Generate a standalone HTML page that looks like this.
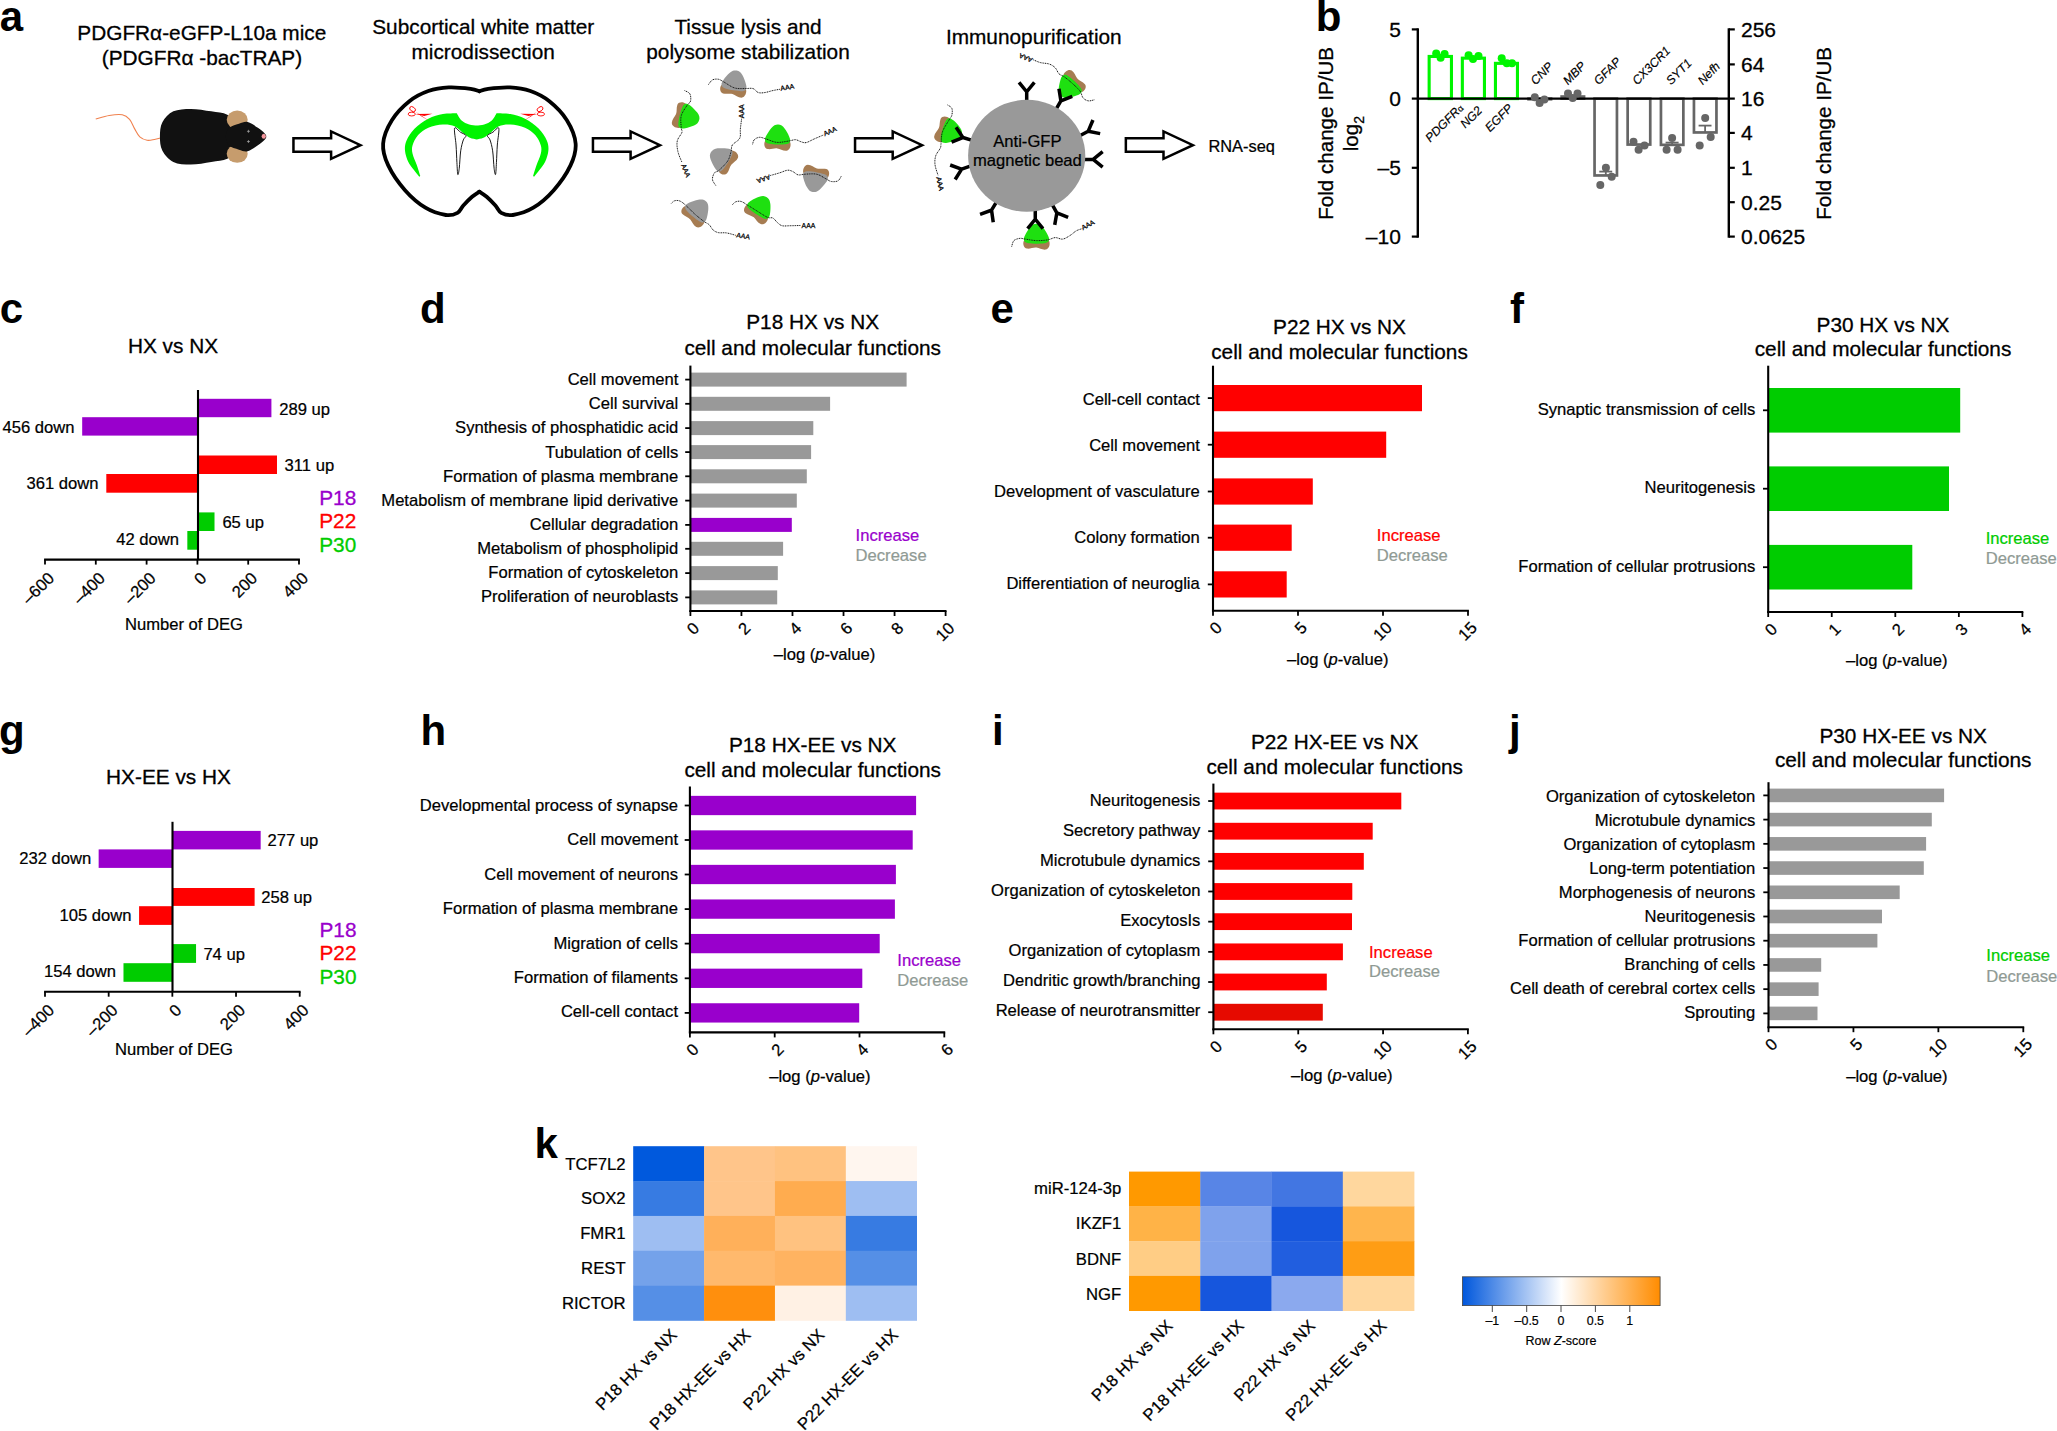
<!DOCTYPE html>
<html lang="en"><head><meta charset="utf-8"><title>Figure</title>
<style>html,body{margin:0;padding:0;background:#fff}svg{display:block}text{font-family:'Liberation Sans', Arial, Helvetica, sans-serif}</style>
</head><body>
<svg width="2057" height="1431" viewBox="0 0 2057 1431">
<rect width="2057" height="1431" fill="#fff"/>
<text x="-0.3" y="31" font-weight="bold" font-size="42">a</text>
<text x="1315.7" y="30.8" font-weight="bold" font-size="42">b</text>
<text x="-0.3" y="323.1" font-weight="bold" font-size="42">c</text>
<text x="420" y="323" font-weight="bold" font-size="42">d</text>
<text x="990.5" y="323" font-weight="bold" font-size="42">e</text>
<text x="1510" y="323" font-weight="bold" font-size="42">f</text>
<text x="-1" y="744.5" font-weight="bold" font-size="42">g</text>
<text x="420.5" y="744.5" font-weight="bold" font-size="42">h</text>
<text x="992" y="744.5" font-weight="bold" font-size="42">i</text>
<text x="1509" y="744.5" font-weight="bold" font-size="42">j</text>
<text x="534.6" y="1158.3" font-weight="bold" font-size="42">k</text>
<g id="panel-a">
<text x="201.8" y="40.2" text-anchor="middle" stroke="#000" stroke-width="0.29" font-size="20.8">PDGFRα-eGFP-L10a mice</text>
<text x="201.9" y="64.8" text-anchor="middle" stroke="#000" stroke-width="0.29" font-size="20.8">(PDGFRα -bacTRAP)</text>
<text x="483.2" y="34.2" text-anchor="middle" stroke="#000" stroke-width="0.29" font-size="20.8">Subcortical white matter</text>
<text x="483.2" y="59.2" text-anchor="middle" stroke="#000" stroke-width="0.29" font-size="20.8">microdissection</text>
<text x="748" y="34.2" text-anchor="middle" stroke="#000" stroke-width="0.29" font-size="20.8">Tissue lysis and</text>
<text x="748" y="59.2" text-anchor="middle" stroke="#000" stroke-width="0.29" font-size="20.8">polysome stabilization</text>
<text x="1033.8" y="43.8" text-anchor="middle" stroke="#000" stroke-width="0.29" font-size="20.8">Immunopurification</text>
<text x="1208.4" y="151.6" stroke="#000" stroke-width="0.23" font-size="16.4">RNA-seq</text>
<path d="M293.45 138.35H331.1V131.4L360.5 145.15L331.1 158.9V151.65H293.45Z" fill="#fff" stroke="#000" stroke-width="2.5" stroke-linejoin="miter"/>
<path d="M592.95 138.35H630.6V131.4L660 145.15L630.6 158.9V151.65H592.95Z" fill="#fff" stroke="#000" stroke-width="2.5" stroke-linejoin="miter"/>
<path d="M855.05 138.35H892.7V131.4L922.1 145.15L892.7 158.9V151.65H855.05Z" fill="#fff" stroke="#000" stroke-width="2.5" stroke-linejoin="miter"/>
<path d="M1125.85 138.35H1163.5V131.4L1192.9 145.15L1163.5 158.9V151.65H1125.85Z" fill="#fff" stroke="#000" stroke-width="2.5" stroke-linejoin="miter"/>
<path d="M95.75 119.08C97.99 118.48 104.74 116.17 109.17 115.44C113.59 114.71 118.89 114.05 122.29 114.71C125.7 115.37 127.52 117.02 129.58 119.38C131.65 121.73 132.99 125.94 134.69 128.86C136.39 131.77 137.73 134.98 139.79 136.88C141.86 138.77 144.65 139.79 147.08 140.23C149.52 140.67 152.14 139.87 154.38 139.5C156.61 139.14 159.48 138.29 160.5 138.04" fill="none" stroke="#f0824f" stroke-width="1.1"/>
<path d="M159.92 136.58C159.92 131.84 160.16 126.5 162.4 122.29C164.63 118.09 168.6 113.59 173.34 111.35C178.07 109.12 184.52 108.88 190.84 108.88C197.16 108.88 205.18 110.38 211.25 111.35C217.33 112.33 222.92 112.64 227.29 114.71C231.67 116.78 235.32 120.11 237.5 123.75C239.69 127.4 240.42 132.21 240.42 136.58C240.42 140.96 239.69 146.31 237.5 150C235.32 153.7 231.67 156.76 227.29 158.75C222.92 160.74 217.33 160.99 211.25 161.96C205.18 162.93 197.16 164.59 190.84 164.59C184.52 164.59 178.07 164.27 173.34 161.96C168.6 159.65 164.63 154.96 162.4 150.73C160.16 146.5 159.92 141.32 159.92 136.58Z" fill="#111"/>
<ellipse cx="237.21" cy="119.81" rx="10.5" ry="9.2" fill="#c69c6d"/>
<ellipse cx="237.21" cy="153.65" rx="10.5" ry="9.2" fill="#c69c6d"/>
<path d="M225.84 136.58C225.84 133.72 226.57 130.26 228.75 128.13C230.94 125.99 235.8 124.77 238.96 123.75C242.12 122.73 244.55 121.32 247.71 122C250.87 122.68 255.05 125.89 257.92 127.83C260.79 129.78 263.54 132.21 264.92 133.67C266.31 135.13 266.23 135.61 266.23 136.58C266.23 137.56 266.31 138.07 264.92 139.5C263.54 140.94 260.79 143.24 257.92 145.19C255.05 147.13 250.87 150.41 247.71 151.17C244.55 151.92 242.12 150.68 238.96 149.71C235.8 148.74 230.94 147.52 228.75 145.33C226.57 143.15 225.84 139.45 225.84 136.58Z" fill="#111"/>
<ellipse cx="263.75" cy="136.29" rx="2.1" ry="2.5" fill="#f4969c"/>
<path d="M246.94 131.33h3M248.44 129.83v3" stroke="#aaa" stroke-width="0.7"/>
<path d="M246.94 141.54h3M248.44 140.04v3" stroke="#aaa" stroke-width="0.7"/>
<path d="M479.38 91.33C477.92 90.92 475.73 89.51 470.63 88.85C465.52 88.2 455.8 87.03 448.75 87.4C441.7 87.76 434.9 88.73 428.33 91.04C421.77 93.35 415.45 96.39 409.38 101.25C403.3 106.11 396.25 113.16 391.88 120.21C387.5 127.26 383.73 136.01 383.13 143.54C382.52 151.08 384.58 157.64 388.23 165.42C391.88 173.2 398.8 183.16 405 190.21C411.2 197.26 418.61 203.58 425.42 207.71C432.22 211.84 440.49 214.15 445.83 215C451.18 215.85 454.59 214.4 457.5 212.82C460.42 211.24 460.9 208.2 463.34 205.52C465.77 202.85 469.41 199.08 472.09 196.77C474.76 194.46 478.16 192.52 479.38 191.67" fill="none" stroke="#000" stroke-width="3.8" stroke-linejoin="round" stroke-linecap="round"/>
<path d="M479.38 91.33C480.84 90.92 483.02 89.51 488.13 88.85C493.23 88.2 502.95 87.03 510 87.4C517.05 87.76 523.86 88.73 530.42 91.04C536.98 93.35 543.3 96.39 549.38 101.25C555.46 106.11 562.5 113.16 566.88 120.21C571.25 127.26 575.02 136.01 575.63 143.54C576.24 151.08 574.17 157.64 570.53 165.42C566.88 173.2 559.95 183.16 553.75 190.21C547.56 197.26 540.14 203.58 533.34 207.71C526.53 211.84 518.27 214.15 512.92 215C507.57 215.85 504.17 214.4 501.25 212.82C498.34 211.24 497.85 208.2 495.42 205.52C492.99 202.85 489.34 199.08 486.67 196.77C484 194.46 480.59 192.52 479.38 191.67" fill="none" stroke="#000" stroke-width="3.8" stroke-linejoin="round" stroke-linecap="round"/>
<path d="M476.68 125.61C475.43 125.44 471.68 125.44 469.17 124.58C466.65 123.73 463.65 122.4 461.59 120.5C459.52 118.61 457.57 114.42 456.77 113.21C454.46 113.35 447.66 113.16 442.92 114.08C438.18 115.01 433.07 116.32 428.33 118.75C423.59 121.18 418.13 125.02 414.48 128.67C410.83 132.31 408.04 136.93 406.46 140.63C404.88 144.32 404.71 147.31 405 150.83C405.29 154.36 406.75 158.61 408.21 161.77C409.67 164.93 411.9 167.29 413.75 169.79C415.6 172.3 418.37 175.63 419.29 176.79L420.31 175.92C419.75 174.17 418.25 169.11 416.96 165.42C415.67 161.72 413.31 157.11 412.58 153.75C411.86 150.4 411.66 148.4 412.58 145.29C413.51 142.18 415.5 138 418.13 135.08C420.75 132.17 424.2 129.54 428.33 127.79C432.47 126.04 438.54 124.83 442.92 124.58C447.29 124.34 451.18 124.88 454.59 126.33C457.99 127.79 460.78 131.41 463.34 133.33C465.89 135.25 467.67 136.83 469.9 137.86C472.12 138.88 475.55 139.19 476.68 139.46C477.81 139.19 481.24 138.88 483.46 137.86C485.68 136.83 487.47 135.25 490.02 133.33C492.58 131.41 495.37 127.79 498.77 126.33C502.18 124.88 506.07 124.34 510.44 124.58C514.82 124.83 520.89 126.04 525.02 127.79C529.16 129.54 532.61 132.17 535.23 135.08C537.86 138 539.85 142.18 540.77 145.29C541.7 148.4 541.5 150.4 540.77 153.75C540.05 157.11 537.69 161.72 536.4 165.42C535.11 169.11 533.6 174.17 533.05 175.92L534.07 176.79C534.99 175.63 537.76 172.3 539.61 169.79C541.45 167.29 543.69 164.93 545.15 161.77C546.61 158.61 548.07 154.36 548.36 150.83C548.65 147.31 548.48 144.32 546.9 140.63C545.32 136.93 542.52 132.31 538.88 128.67C535.23 125.02 529.76 121.18 525.02 118.75C520.28 116.32 515.18 115.01 510.44 114.08C505.7 113.16 498.9 113.35 496.59 113.21C495.78 114.42 493.84 118.61 491.77 120.5C489.71 122.4 486.71 123.73 484.19 124.58C481.67 125.44 477.93 125.44 476.68 125.61Z" fill="#00f400"/>
<path d="M454.59 128.23C453.86 130.37 455.65 139.29 456.04 145C456.43 150.71 456.63 157.59 456.92 162.5C457.21 167.41 457.4 173.49 457.79 174.46C458.18 175.43 458.77 172.27 459.25 168.34C459.74 164.4 460.03 155.57 460.71 150.83C461.39 146.1 462.46 142.45 463.34 139.9C464.21 137.35 466.45 136.81 465.96 135.52C465.47 134.23 462.31 133.38 460.42 132.17C458.52 130.95 455.31 126.09 454.59 128.23Z" fill="#fff" stroke="#000" stroke-width="0.9"/>
<path d="M498.77 128.23C499.5 130.37 497.7 139.29 497.32 145C496.93 150.71 496.73 157.59 496.44 162.5C496.15 167.41 495.95 173.49 495.57 174.46C495.18 175.43 494.59 172.27 494.11 168.34C493.62 164.4 493.33 155.57 492.65 150.83C491.97 146.1 490.9 142.45 490.02 139.9C489.15 137.35 486.91 136.81 487.4 135.52C487.88 134.23 491.04 133.38 492.94 132.17C494.84 130.95 498.04 126.09 498.77 128.23Z" fill="#fff" stroke="#000" stroke-width="0.9"/>
<ellipse cx="412.58" cy="109.13" rx="3.2" ry="2.1" fill="none" stroke="#f00" stroke-width="0.9" transform="rotate(35 412.58 109.13)"/>
<ellipse cx="411.71" cy="114.08" rx="3.6" ry="1.9" fill="none" stroke="#f00" stroke-width="0.9"/>
<path d="M415.21 111.46L430.08 121.38L421.33 116.13Z" fill="#f00"/>
<path d="M415.21 114.08L432.42 113.79L424.25 115.98Z" fill="#f00"/>
<ellipse cx="540.05" cy="109.13" rx="3.2" ry="2.1" fill="none" stroke="#f00" stroke-width="0.9" transform="rotate(-35 540.05 109.13)"/>
<ellipse cx="540.92" cy="114.08" rx="3.6" ry="1.9" fill="none" stroke="#f00" stroke-width="0.9"/>
<path d="M537.42 111.46L522.54 121.38L531.3 116.13Z" fill="#f00"/>
<path d="M537.42 114.08L520.21 113.79L528.38 115.98Z" fill="#f00"/>
<g transform="translate(733.71 87.22) rotate(10)"><path d="M-12.4 0C-14 2.5 -13 7.6 -9.5 8C-6 8.4 -3 6.6 0 7C3 7.4 6 9.6 9.5 9C13.2 8.2 14 2.5 12.4 0Z" fill="#a67c52"/><path d="M0 -16.9C1.2 -16.9 2.5 -16.62 3.6 -16C4.7 -15.38 5.67 -14.3 6.6 -13.2C7.53 -12.1 8.4 -10.7 9.2 -9.4C10 -8.1 10.83 -6.67 11.4 -5.4C11.97 -4.13 12.57 -2.9 12.6 -1.8C12.63 -0.7 12.37 0.47 11.6 1.2C10.83 1.93 9.93 2.28 8 2.6C6.07 2.92 2.67 3.1 0 3.1C-2.67 3.1 -6.07 2.92 -8 2.6C-9.93 2.28 -10.83 1.93 -11.6 1.2C-12.37 0.47 -12.63 -0.7 -12.6 -1.8C-12.57 -2.9 -11.97 -4.13 -11.4 -5.4C-10.83 -6.67 -10 -8.1 -9.2 -9.4C-8.4 -10.7 -7.53 -12.1 -6.6 -13.2C-5.67 -14.3 -4.7 -15.38 -3.6 -16C-2.5 -16.62 -1.2 -16.9 0 -16.9Z" fill="#999999"/></g>
<path d="M708.47 84.57C709.14 83.79 710.8 80.81 712.46 79.92C714.12 79.03 716.55 78.92 718.43 79.26C720.31 79.59 721.09 80.47 723.75 81.91C726.4 83.35 730.83 86.78 734.37 87.89C737.91 89 741.89 88.44 744.99 88.55C748.09 88.66 750.75 87.89 752.96 88.55C755.17 89.22 756.28 91.87 758.27 92.54C760.27 93.2 762.48 92.87 764.91 92.54C767.35 92.2 770.34 91.1 772.88 90.54C775.43 89.99 778.97 89.44 780.19 89.22" fill="none" stroke="#111" stroke-width="1" stroke-dasharray="1 0.7"/>
<text transform="translate(780.85 90.81) rotate(-10)" font-size="6.9" stroke="#000" stroke-width="0.25">AAA</text>
<g transform="translate(682.84 115.78) rotate(104)"><path d="M-12.4 0C-14 2.5 -13 7.6 -9.5 8C-6 8.4 -3 6.6 0 7C3 7.4 6 9.6 9.5 9C13.2 8.2 14 2.5 12.4 0Z" fill="#a67c52"/><path d="M0 -16.9C1.2 -16.9 2.5 -16.62 3.6 -16C4.7 -15.38 5.67 -14.3 6.6 -13.2C7.53 -12.1 8.4 -10.7 9.2 -9.4C10 -8.1 10.83 -6.67 11.4 -5.4C11.97 -4.13 12.57 -2.9 12.6 -1.8C12.63 -0.7 12.37 0.47 11.6 1.2C10.83 1.93 9.93 2.28 8 2.6C6.07 2.92 2.67 3.1 0 3.1C-2.67 3.1 -6.07 2.92 -8 2.6C-9.93 2.28 -10.83 1.93 -11.6 1.2C-12.37 0.47 -12.63 -0.7 -12.6 -1.8C-12.57 -2.9 -11.97 -4.13 -11.4 -5.4C-10.83 -6.67 -10 -8.1 -9.2 -9.4C-8.4 -10.7 -7.53 -12.1 -6.6 -13.2C-5.67 -14.3 -4.7 -15.38 -3.6 -16C-2.5 -16.62 -1.2 -16.9 0 -16.9Z" fill="#1ee010"/></g>
<path d="M684.57 90.54C685.45 91.1 688.88 92.09 689.88 93.86C690.88 95.64 690.99 99.29 690.54 101.17C690.1 103.05 688.77 102.72 687.22 105.15C685.68 107.59 682.24 112.01 681.25 115.78C680.25 119.54 681.14 124.96 681.25 127.73C681.36 130.5 682.58 130.16 681.91 132.38C681.25 134.59 677.93 137.8 677.26 141.01C676.6 144.22 677.15 148.09 677.93 151.63C678.7 155.17 681.25 160.49 681.91 162.26" fill="none" stroke="#111" stroke-width="1" stroke-dasharray="1 0.7"/>
<text transform="translate(680.98 164.91) rotate(68)" font-size="6.9" stroke="#000" stroke-width="0.25">AAA</text>
<g transform="translate(725.34 160.93) rotate(-58)"><path d="M-12.4 0C-14 2.5 -13 7.6 -9.5 8C-6 8.4 -3 6.6 0 7C3 7.4 6 9.6 9.5 9C13.2 8.2 14 2.5 12.4 0Z" fill="#a67c52"/><path d="M0 -16.9C1.2 -16.9 2.5 -16.62 3.6 -16C4.7 -15.38 5.67 -14.3 6.6 -13.2C7.53 -12.1 8.4 -10.7 9.2 -9.4C10 -8.1 10.83 -6.67 11.4 -5.4C11.97 -4.13 12.57 -2.9 12.6 -1.8C12.63 -0.7 12.37 0.47 11.6 1.2C10.83 1.93 9.93 2.28 8 2.6C6.07 2.92 2.67 3.1 0 3.1C-2.67 3.1 -6.07 2.92 -8 2.6C-9.93 2.28 -10.83 1.93 -11.6 1.2C-12.37 0.47 -12.63 -0.7 -12.6 -1.8C-12.57 -2.9 -11.97 -4.13 -11.4 -5.4C-10.83 -6.67 -10 -8.1 -9.2 -9.4C-8.4 -10.7 -7.53 -12.1 -6.6 -13.2C-5.67 -14.3 -4.7 -15.38 -3.6 -16C-2.5 -16.62 -1.2 -16.9 0 -16.9Z" fill="#999999"/></g>
<path d="M715.78 185.5C715.22 184.5 712.68 181.62 712.46 179.52C712.24 177.42 713.34 174.43 714.45 172.88C715.56 171.33 716.88 172.22 719.1 170.23C721.31 168.23 725.74 164.03 727.73 160.93C729.72 157.83 730.27 154.29 731.05 151.63C731.82 148.98 730.94 147.21 732.38 144.99C733.82 142.78 738.35 141.01 739.68 138.35C741.01 135.7 740.01 132.38 740.35 129.06C740.68 125.74 741.45 120.2 741.67 118.43" fill="none" stroke="#111" stroke-width="1" stroke-dasharray="1 0.7"/>
<text transform="translate(744.46 118.17) rotate(-90)" font-size="6.9" stroke="#000" stroke-width="0.25">AAA</text>
<g transform="translate(777.53 141.41) rotate(2)"><path d="M-12.4 0C-14 2.5 -13 7.6 -9.5 8C-6 8.4 -3 6.6 0 7C3 7.4 6 9.6 9.5 9C13.2 8.2 14 2.5 12.4 0Z" fill="#a67c52"/><path d="M0 -16.9C1.2 -16.9 2.5 -16.62 3.6 -16C4.7 -15.38 5.67 -14.3 6.6 -13.2C7.53 -12.1 8.4 -10.7 9.2 -9.4C10 -8.1 10.83 -6.67 11.4 -5.4C11.97 -4.13 12.57 -2.9 12.6 -1.8C12.63 -0.7 12.37 0.47 11.6 1.2C10.83 1.93 9.93 2.28 8 2.6C6.07 2.92 2.67 3.1 0 3.1C-2.67 3.1 -6.07 2.92 -8 2.6C-9.93 2.28 -10.83 1.93 -11.6 1.2C-12.37 0.47 -12.63 -0.7 -12.6 -1.8C-12.57 -2.9 -11.97 -4.13 -11.4 -5.4C-10.83 -6.67 -10 -8.1 -9.2 -9.4C-8.4 -10.7 -7.53 -12.1 -6.6 -13.2C-5.67 -14.3 -4.7 -15.38 -3.6 -16C-2.5 -16.62 -1.2 -16.9 0 -16.9Z" fill="#1ee010"/></g>
<path d="M752.56 144.33C752.85 143.55 753.12 140.85 754.29 139.68C755.46 138.51 757.61 137.4 759.6 137.29C761.59 137.18 763.36 138.18 766.24 139.02C769.12 139.86 773.1 142.01 776.87 142.34C780.63 142.67 785.72 141.45 788.82 141.01C791.92 140.57 793.47 139.57 795.46 139.68C797.45 139.79 799 141.19 800.77 141.67C802.54 142.16 803.87 143.05 806.08 142.6C808.3 142.16 811.17 140.28 814.05 139.02C816.93 137.76 821.8 135.7 823.35 135.03" fill="none" stroke="#111" stroke-width="1" stroke-dasharray="1 0.7"/>
<text transform="translate(824.67 136.36) rotate(-24)" font-size="6.9" stroke="#000" stroke-width="0.25">AAA</text>
<g transform="translate(815.64 175.27) rotate(190)"><path d="M-12.4 0C-14 2.5 -13 7.6 -9.5 8C-6 8.4 -3 6.6 0 7C3 7.4 6 9.6 9.5 9C13.2 8.2 14 2.5 12.4 0Z" fill="#a67c52"/><path d="M0 -16.9C1.2 -16.9 2.5 -16.62 3.6 -16C4.7 -15.38 5.67 -14.3 6.6 -13.2C7.53 -12.1 8.4 -10.7 9.2 -9.4C10 -8.1 10.83 -6.67 11.4 -5.4C11.97 -4.13 12.57 -2.9 12.6 -1.8C12.63 -0.7 12.37 0.47 11.6 1.2C10.83 1.93 9.93 2.28 8 2.6C6.07 2.92 2.67 3.1 0 3.1C-2.67 3.1 -6.07 2.92 -8 2.6C-9.93 2.28 -10.83 1.93 -11.6 1.2C-12.37 0.47 -12.63 -0.7 -12.6 -1.8C-12.57 -2.9 -11.97 -4.13 -11.4 -5.4C-10.83 -6.67 -10 -8.1 -9.2 -9.4C-8.4 -10.7 -7.53 -12.1 -6.6 -13.2C-5.67 -14.3 -4.7 -15.38 -3.6 -16C-2.5 -16.62 -1.2 -16.9 0 -16.9Z" fill="#999999"/></g>
<path d="M841.27 176.2C840.72 176.98 839.61 179.96 837.95 180.85C836.29 181.74 833.31 181.85 831.31 181.51C829.32 181.18 828.44 180.08 826 178.86C823.57 177.64 820.25 174.98 816.71 174.21C813.17 173.44 807.85 174.1 804.75 174.21C801.66 174.32 800.11 175.32 798.11 174.87C796.12 174.43 794.57 172.33 792.8 171.55C791.03 170.78 789.7 170 787.49 170.23C785.28 170.45 782.4 172 779.52 172.88C776.64 173.77 771.78 175.1 770.23 175.54" fill="none" stroke="#111" stroke-width="1" stroke-dasharray="1 0.7"/>
<text transform="translate(769.16 174.48) rotate(160)" font-size="6.9" stroke="#000" stroke-width="0.25">AAA</text>
<g transform="translate(694.79 214.05) rotate(40)"><path d="M-12.4 0C-14 2.5 -13 7.6 -9.5 8C-6 8.4 -3 6.6 0 7C3 7.4 6 9.6 9.5 9C13.2 8.2 14 2.5 12.4 0Z" fill="#a67c52"/><path d="M0 -16.9C1.2 -16.9 2.5 -16.62 3.6 -16C4.7 -15.38 5.67 -14.3 6.6 -13.2C7.53 -12.1 8.4 -10.7 9.2 -9.4C10 -8.1 10.83 -6.67 11.4 -5.4C11.97 -4.13 12.57 -2.9 12.6 -1.8C12.63 -0.7 12.37 0.47 11.6 1.2C10.83 1.93 9.93 2.28 8 2.6C6.07 2.92 2.67 3.1 0 3.1C-2.67 3.1 -6.07 2.92 -8 2.6C-9.93 2.28 -10.83 1.93 -11.6 1.2C-12.37 0.47 -12.63 -0.7 -12.6 -1.8C-12.57 -2.9 -11.97 -4.13 -11.4 -5.4C-10.83 -6.67 -10 -8.1 -9.2 -9.4C-8.4 -10.7 -7.53 -12.1 -6.6 -13.2C-5.67 -14.3 -4.7 -15.38 -3.6 -16C-2.5 -16.62 -1.2 -16.9 0 -16.9Z" fill="#999999"/></g>
<path d="M671.29 203.43C671.84 202.98 673.17 201.17 674.61 200.77C676.05 200.37 678.04 200.26 679.92 201.04C681.8 201.81 683.42 203.25 685.9 205.42C688.38 207.59 691.81 211.39 694.79 214.05C697.78 216.71 701.43 219.58 703.82 221.35C706.22 223.13 707.59 223.24 709.14 224.67C710.69 226.11 711.57 228.66 713.12 229.99C714.67 231.31 716.22 232.16 718.43 232.64C720.65 233.13 723.52 232.47 726.4 232.91C729.28 233.35 734.15 234.9 735.7 235.3" fill="none" stroke="#111" stroke-width="1" stroke-dasharray="1 0.7"/>
<text transform="translate(735.96 237.16) rotate(10)" font-size="6.9" stroke="#000" stroke-width="0.25">AAA</text>
<g transform="translate(757.61 211.39) rotate(33)"><path d="M-12.4 0C-14 2.5 -13 7.6 -9.5 8C-6 8.4 -3 6.6 0 7C3 7.4 6 9.6 9.5 9C13.2 8.2 14 2.5 12.4 0Z" fill="#a67c52"/><path d="M0 -16.9C1.2 -16.9 2.5 -16.62 3.6 -16C4.7 -15.38 5.67 -14.3 6.6 -13.2C7.53 -12.1 8.4 -10.7 9.2 -9.4C10 -8.1 10.83 -6.67 11.4 -5.4C11.97 -4.13 12.57 -2.9 12.6 -1.8C12.63 -0.7 12.37 0.47 11.6 1.2C10.83 1.93 9.93 2.28 8 2.6C6.07 2.92 2.67 3.1 0 3.1C-2.67 3.1 -6.07 2.92 -8 2.6C-9.93 2.28 -10.83 1.93 -11.6 1.2C-12.37 0.47 -12.63 -0.7 -12.6 -1.8C-12.57 -2.9 -11.97 -4.13 -11.4 -5.4C-10.83 -6.67 -10 -8.1 -9.2 -9.4C-8.4 -10.7 -7.53 -12.1 -6.6 -13.2C-5.67 -14.3 -4.7 -15.38 -3.6 -16C-2.5 -16.62 -1.2 -16.9 0 -16.9Z" fill="#1ee010"/></g>
<path d="M732.38 204.75C732.93 204.27 734.26 202.39 735.7 201.83C737.14 201.28 739.13 200.95 741.01 201.43C742.89 201.92 744.22 203.09 746.99 204.75C749.75 206.41 754.18 209.29 757.61 211.39C761.04 213.5 765.02 216.26 767.57 217.37C770.12 218.48 771.22 217.15 772.88 218.03C774.54 218.92 775.98 221.4 777.53 222.68C779.08 223.97 780.08 225.23 782.18 225.74C784.28 226.25 787.05 225.78 790.15 225.74C793.24 225.69 799 225.52 800.77 225.47" fill="none" stroke="#111" stroke-width="1" stroke-dasharray="1 0.7"/>
<text transform="translate(801.57 227.6) rotate(0)" font-size="6.9" stroke="#000" stroke-width="0.25">AAA</text>
<g transform="translate(1072.52 83.58) rotate(-137)"><path d="M-12.4 0C-14 2.5 -13 7.6 -9.5 8C-6 8.4 -3 6.6 0 7C3 7.4 6 9.6 9.5 9C13.2 8.2 14 2.5 12.4 0Z" fill="#a67c52"/><path d="M0 -16.9C1.2 -16.9 2.5 -16.62 3.6 -16C4.7 -15.38 5.67 -14.3 6.6 -13.2C7.53 -12.1 8.4 -10.7 9.2 -9.4C10 -8.1 10.83 -6.67 11.4 -5.4C11.97 -4.13 12.57 -2.9 12.6 -1.8C12.63 -0.7 12.37 0.47 11.6 1.2C10.83 1.93 9.93 2.28 8 2.6C6.07 2.92 2.67 3.1 0 3.1C-2.67 3.1 -6.07 2.92 -8 2.6C-9.93 2.28 -10.83 1.93 -11.6 1.2C-12.37 0.47 -12.63 -0.7 -12.6 -1.8C-12.57 -2.9 -11.97 -4.13 -11.4 -5.4C-10.83 -6.67 -10 -8.1 -9.2 -9.4C-8.4 -10.7 -7.53 -12.1 -6.6 -13.2C-5.67 -14.3 -4.7 -15.38 -3.6 -16C-2.5 -16.62 -1.2 -16.9 0 -16.9Z" fill="#1ee010"/></g>
<path d="M1094.31 99.8C1093.3 99.98 1090.17 101.18 1088.29 100.86C1086.42 100.53 1084.41 99.48 1083.04 97.85C1081.66 96.22 1081.78 93.47 1080.03 91.09C1078.28 88.71 1075.15 85.96 1072.52 83.58C1069.89 81.2 1066.51 78.44 1064.25 76.81C1062 75.19 1060.5 75.31 1058.99 73.81C1057.49 72.31 1056.86 69.43 1055.24 67.8C1053.61 66.17 1051.73 64.92 1049.23 64.04C1046.72 63.17 1042.97 63.29 1040.21 62.54C1037.46 61.79 1033.95 60.04 1032.7 59.53" fill="none" stroke="#111" stroke-width="1" stroke-dasharray="1 0.7"/>
<text transform="translate(1033 58.33) rotate(203)" font-size="6.9" stroke="#000" stroke-width="0.25">AAA</text>
<g transform="translate(945.54 130.16) rotate(107)"><path d="M-12.4 0C-14 2.5 -13 7.6 -9.5 8C-6 8.4 -3 6.6 0 7C3 7.4 6 9.6 9.5 9C13.2 8.2 14 2.5 12.4 0Z" fill="#a67c52"/><path d="M0 -16.9C1.2 -16.9 2.5 -16.62 3.6 -16C4.7 -15.38 5.67 -14.3 6.6 -13.2C7.53 -12.1 8.4 -10.7 9.2 -9.4C10 -8.1 10.83 -6.67 11.4 -5.4C11.97 -4.13 12.57 -2.9 12.6 -1.8C12.63 -0.7 12.37 0.47 11.6 1.2C10.83 1.93 9.93 2.28 8 2.6C6.07 2.92 2.67 3.1 0 3.1C-2.67 3.1 -6.07 2.92 -8 2.6C-9.93 2.28 -10.83 1.93 -11.6 1.2C-12.37 0.47 -12.63 -0.7 -12.6 -1.8C-12.57 -2.9 -11.97 -4.13 -11.4 -5.4C-10.83 -6.67 -10 -8.1 -9.2 -9.4C-8.4 -10.7 -7.53 -12.1 -6.6 -13.2C-5.67 -14.3 -4.7 -15.38 -3.6 -16C-2.5 -16.62 -1.2 -16.9 0 -16.9Z" fill="#1ee010"/></g>
<path d="M947.5 104.91C948.22 105.49 951.13 106.67 951.86 108.37C952.58 110.07 952.28 113.25 951.86 115.13C951.43 117.01 950.85 116.88 949.3 119.64C947.75 122.39 943.92 127.65 942.54 131.66C941.16 135.67 941.41 140.93 941.04 143.68C940.66 146.44 941.16 146.19 940.29 148.19C939.41 150.19 936.65 152.95 935.78 155.7C934.9 158.46 934.65 161.46 935.03 164.72C935.4 167.97 937.53 173.48 938.03 175.24" fill="none" stroke="#111" stroke-width="1" stroke-dasharray="1 0.7"/>
<text transform="translate(936.23 177.49) rotate(78)" font-size="6.9" stroke="#000" stroke-width="0.25">AAA</text>
<g transform="translate(1036.45 240.6) rotate(0)"><path d="M-12.4 0C-14 2.5 -13 7.6 -9.5 8C-6 8.4 -3 6.6 0 7C3 7.4 6 9.6 9.5 9C13.2 8.2 14 2.5 12.4 0Z" fill="#a67c52"/><path d="M0 -16.9C1.2 -16.9 2.5 -16.62 3.6 -16C4.7 -15.38 5.67 -14.3 6.6 -13.2C7.53 -12.1 8.4 -10.7 9.2 -9.4C10 -8.1 10.83 -6.67 11.4 -5.4C11.97 -4.13 12.57 -2.9 12.6 -1.8C12.63 -0.7 12.37 0.47 11.6 1.2C10.83 1.93 9.93 2.28 8 2.6C6.07 2.92 2.67 3.1 0 3.1C-2.67 3.1 -6.07 2.92 -8 2.6C-9.93 2.28 -10.83 1.93 -11.6 1.2C-12.37 0.47 -12.63 -0.7 -12.6 -1.8C-12.57 -2.9 -11.97 -4.13 -11.4 -5.4C-10.83 -6.67 -10 -8.1 -9.2 -9.4C-8.4 -10.7 -7.53 -12.1 -6.6 -13.2C-5.67 -14.3 -4.7 -15.38 -3.6 -16C-2.5 -16.62 -1.2 -16.9 0 -16.9Z" fill="#1ee010"/></g>
<path d="M1011.66 246.61C1012.04 245.61 1012.54 241.98 1013.91 240.6C1015.29 239.22 1018.05 238.6 1019.92 238.35C1021.8 238.1 1022.43 238.72 1025.18 239.1C1027.94 239.47 1032.7 240.48 1036.45 240.6C1040.21 240.73 1044.59 240.35 1047.72 239.85C1050.85 239.35 1052.73 237.72 1055.24 237.6C1057.74 237.47 1060.25 239.47 1062.75 239.1C1065.25 238.72 1068.01 236.72 1070.26 235.34C1072.52 233.96 1074.27 231.96 1076.27 230.83C1078.28 229.71 1081.28 228.96 1082.28 228.58" fill="none" stroke="#111" stroke-width="1" stroke-dasharray="1 0.7"/>
<text transform="translate(1082.89 230.23) rotate(-28)" font-size="6.9" stroke="#000" stroke-width="0.25">AAA</text>
<path d="M1026.7 102.4L1026.7 91.8M1027.46 92.73L1019.02 82.32M1025.94 92.73L1034.38 82.32" fill="none" stroke="#000" stroke-width="3.5" stroke-linecap="butt"/>
<path d="M1055.57 110.04L1060.87 100.87M1061.06 102.05L1058.96 88.82M1059.75 101.3L1072.26 96.49" fill="none" stroke="#000" stroke-width="3.5" stroke-linecap="butt"/>
<path d="M1078.82 136.25L1088.18 131.28M1087.71 132.38L1092.95 120.05M1087.01 131.05L1100.16 133.61" fill="none" stroke="#000" stroke-width="3.5" stroke-linecap="butt"/>
<path d="M1082.58 159.38L1093.18 159.38M1092.25 160.13L1102.66 151.7M1092.25 158.62L1102.66 167.05" fill="none" stroke="#000" stroke-width="3.5" stroke-linecap="butt"/>
<path d="M1051.7 203.59L1056.84 212.86M1055.73 212.41L1068.15 217.43M1057.05 211.68L1054.72 224.87" fill="none" stroke="#000" stroke-width="3.5" stroke-linecap="butt"/>
<path d="M1035.27 208.59L1035.27 219.19M1034.52 218.26L1042.95 228.67M1036.03 218.26L1027.6 228.67" fill="none" stroke="#000" stroke-width="3.5" stroke-linecap="butt"/>
<path d="M996.99 201.07L991.54 210.15M991.37 208.97L993.23 222.23M992.66 209.74L980.07 214.33" fill="none" stroke="#000" stroke-width="3.5" stroke-linecap="butt"/>
<path d="M971.66 165.72L961.63 169.17M962.27 168.15L955.17 179.52M962.76 169.58L950.17 165" fill="none" stroke="#000" stroke-width="3.5" stroke-linecap="butt"/>
<path d="M973.03 140.56L962.89 137.46M964.01 137.01L951.58 142.03M963.56 138.45L956.07 127.34" fill="none" stroke="#000" stroke-width="3.5" stroke-linecap="butt"/>
<ellipse cx="1026.7" cy="155.8" rx="58.6" ry="56" fill="#999"/>
<text x="1027.4" y="146.5" text-anchor="middle" stroke="#000" stroke-width="0.23" font-size="16.6">Anti-GFP</text>
<text x="1027.4" y="165.7" text-anchor="middle" stroke="#000" stroke-width="0.23" font-size="16.6">magnetic bead</text>
</g>
<g id="panel-b">
<rect x="1429.15" y="56.45" width="22.3" height="42.15" fill="#fff" stroke="#00f500" stroke-width="3.1"/>
<rect x="1462.35" y="58.15" width="22.1" height="40.45" fill="#fff" stroke="#00f500" stroke-width="3.1"/>
<rect x="1495.45" y="63.35" width="22" height="35.25" fill="#fff" stroke="#00f500" stroke-width="3.1"/>
<rect x="1528.55" y="98.6" width="22.5" height="0.65" fill="#fff" stroke="#666666" stroke-width="2.7"/>
<rect x="1561.65" y="96.55" width="22.4" height="2.05" fill="#fff" stroke="#666666" stroke-width="2.7"/>
<rect x="1594.55" y="98.6" width="22.4" height="76.85" fill="#fff" stroke="#666666" stroke-width="2.7"/>
<rect x="1627.65" y="98.6" width="22.6" height="45.95" fill="#fff" stroke="#666666" stroke-width="2.7"/>
<rect x="1660.95" y="98.6" width="22.4" height="46.25" fill="#fff" stroke="#666666" stroke-width="2.7"/>
<rect x="1693.95" y="98.6" width="22.5" height="33.85" fill="#fff" stroke="#666666" stroke-width="2.7"/>
<line x1="1599.3" y1="171.6" x2="1612.2" y2="171.6" stroke="#666666" stroke-width="1.8"/>
<line x1="1605.8" y1="171.6" x2="1605.8" y2="176" stroke="#666666" stroke-width="1.8"/>
<line x1="1698.6" y1="125.6" x2="1711.5" y2="125.6" stroke="#666666" stroke-width="1.8"/>
<line x1="1705.1" y1="125.6" x2="1705.1" y2="133" stroke="#666666" stroke-width="1.8"/>
<line x1="1665.6" y1="142.6" x2="1678.6" y2="142.6" stroke="#666666" stroke-width="1.8"/>
<line x1="1672.1" y1="142.6" x2="1672.1" y2="146" stroke="#666666" stroke-width="1.8"/>
<line x1="1417.8" y1="28.3" x2="1417.8" y2="237.7" stroke="#000" stroke-width="2.4"/>
<line x1="1728.8" y1="28.3" x2="1728.8" y2="237.7" stroke="#000" stroke-width="2.4"/>
<line x1="1417.8" y1="98.6" x2="1728.8" y2="98.6" stroke="#000" stroke-width="2.4"/>
<line x1="1411.8" y1="29.4" x2="1417.8" y2="29.4" stroke="#000" stroke-width="2.2"/>
<text x="1400.9" y="36.9" text-anchor="end" stroke="#000" stroke-width="0.29" font-size="21">5</text>
<line x1="1411.8" y1="98.6" x2="1417.8" y2="98.6" stroke="#000" stroke-width="2.2"/>
<text x="1400.9" y="106.1" text-anchor="end" stroke="#000" stroke-width="0.29" font-size="21">0</text>
<line x1="1411.8" y1="167.8" x2="1417.8" y2="167.8" stroke="#000" stroke-width="2.2"/>
<text x="1400.9" y="175.3" text-anchor="end" stroke="#000" stroke-width="0.29" font-size="21">–5</text>
<line x1="1411.8" y1="236.6" x2="1417.8" y2="236.6" stroke="#000" stroke-width="2.2"/>
<text x="1400.9" y="244.1" text-anchor="end" stroke="#000" stroke-width="0.29" font-size="21">–10</text>
<line x1="1728.8" y1="29.4" x2="1734.8" y2="29.4" stroke="#000" stroke-width="2.2"/>
<text x="1741" y="36.9" stroke="#000" stroke-width="0.29" font-size="21">256</text>
<line x1="1728.8" y1="64.4" x2="1734.8" y2="64.4" stroke="#000" stroke-width="2.2"/>
<text x="1741" y="71.9" stroke="#000" stroke-width="0.29" font-size="21">64</text>
<line x1="1728.8" y1="98.6" x2="1734.8" y2="98.6" stroke="#000" stroke-width="2.2"/>
<text x="1741" y="106.1" stroke="#000" stroke-width="0.29" font-size="21">16</text>
<line x1="1728.8" y1="132.9" x2="1734.8" y2="132.9" stroke="#000" stroke-width="2.2"/>
<text x="1741" y="140.4" stroke="#000" stroke-width="0.29" font-size="21">4</text>
<line x1="1728.8" y1="167.8" x2="1734.8" y2="167.8" stroke="#000" stroke-width="2.2"/>
<text x="1741" y="175.3" stroke="#000" stroke-width="0.29" font-size="21">1</text>
<line x1="1728.8" y1="202.2" x2="1734.8" y2="202.2" stroke="#000" stroke-width="2.2"/>
<text x="1741" y="209.7" stroke="#000" stroke-width="0.29" font-size="21">0.25</text>
<line x1="1728.8" y1="236.6" x2="1734.8" y2="236.6" stroke="#000" stroke-width="2.2"/>
<text x="1741" y="244.1" stroke="#000" stroke-width="0.29" font-size="21">0.0625</text>
<text text-anchor="middle" stroke="#000" stroke-width="0.29" transform="translate(1332.6 133.4) rotate(-90)" font-size="20.6">Fold change IP/UB</text>
<text text-anchor="middle" stroke="#000" stroke-width="0.29" transform="translate(1357.5 133.6) rotate(-90)" font-size="20.6">log<tspan font-size="14" dy="6.5">2</tspan></text>
<text text-anchor="middle" stroke="#000" stroke-width="0.29" transform="translate(1831.2 133.4) rotate(-90)" font-size="20.6">Fold change IP/UB</text>
<circle cx="1436.2" cy="53.4" r="4" fill="#00f500"/>
<circle cx="1444.6" cy="54.1" r="4" fill="#00f500"/>
<circle cx="1440.6" cy="57.8" r="4" fill="#00f500"/>
<circle cx="1468.6" cy="55.2" r="4" fill="#00f500"/>
<circle cx="1478.5" cy="55.9" r="4" fill="#00f500"/>
<circle cx="1473" cy="58.9" r="4" fill="#00f500"/>
<circle cx="1501.7" cy="58.2" r="4" fill="#00f500"/>
<circle cx="1506.8" cy="63.3" r="4" fill="#00f500"/>
<circle cx="1512" cy="63.3" r="4" fill="#00f500"/>
<circle cx="1534.8" cy="97.2" r="4" fill="#666666"/>
<circle cx="1544.4" cy="99.4" r="4" fill="#666666"/>
<circle cx="1539.6" cy="103.1" r="4" fill="#666666"/>
<circle cx="1568" cy="93.5" r="4" fill="#666666"/>
<circle cx="1577.5" cy="93.5" r="4" fill="#666666"/>
<circle cx="1572.7" cy="97.9" r="4" fill="#666666"/>
<circle cx="1605.9" cy="167.8" r="4" fill="#666666"/>
<circle cx="1611.7" cy="176.7" r="4" fill="#666666"/>
<circle cx="1600.3" cy="185.1" r="4" fill="#666666"/>
<circle cx="1633.5" cy="141.7" r="4" fill="#666666"/>
<circle cx="1644.5" cy="145.4" r="4" fill="#666666"/>
<circle cx="1638.6" cy="149.8" r="4" fill="#666666"/>
<circle cx="1672.1" cy="138" r="4" fill="#666666"/>
<circle cx="1666.6" cy="149.8" r="4" fill="#666666"/>
<circle cx="1677.6" cy="149.8" r="4" fill="#666666"/>
<circle cx="1705.2" cy="118.1" r="4" fill="#666666"/>
<circle cx="1710.7" cy="136.9" r="4" fill="#666666"/>
<circle cx="1699.7" cy="145.4" r="4" fill="#666666"/>
<text text-anchor="end" font-style="italic" stroke="#000" stroke-width="0.17" transform="translate(1464.15 108.94) rotate(-45)" font-size="12.2">PDGFR<tspan font-size="9" font-style="normal">α</tspan></text>
<text text-anchor="end" font-style="italic" stroke="#000" stroke-width="0.17" transform="translate(1482.92 111.15) rotate(-45)" font-size="12.2">NG2</text>
<text text-anchor="end" font-style="italic" stroke="#000" stroke-width="0.17" transform="translate(1513.47 108.94) rotate(-45)" font-size="12.2">EGFP</text>
<text font-style="italic" stroke="#000" stroke-width="0.17" transform="translate(1535.55 85.39) rotate(-45)" font-size="12.2">CNP</text>
<text font-style="italic" stroke="#000" stroke-width="0.17" transform="translate(1567.94 85.39) rotate(-45)" font-size="12.2">MBP</text>
<text font-style="italic" stroke="#000" stroke-width="0.17" transform="translate(1598.86 85.39) rotate(-45)" font-size="12.2">GFAP</text>
<text font-style="italic" stroke="#000" stroke-width="0.17" transform="translate(1637.14 85.39) rotate(-45)" font-size="12.2">CX3CR1</text>
<text font-style="italic" stroke="#000" stroke-width="0.17" transform="translate(1671 85.39) rotate(-45)" font-size="12.2">SYT1</text>
<text font-style="italic" stroke="#000" stroke-width="0.17" transform="translate(1702.65 85.39) rotate(-45)" font-size="12.2">Nefh</text>
</g>
<g id="panel-c">
<rect x="198" y="398.8" width="73.41" height="18.4" fill="#9900cc"/>
<rect x="82.18" y="417.2" width="115.82" height="18.4" fill="#9900cc"/>
<text x="279.3" y="414.6" stroke="#000" stroke-width="0.23" font-size="16.6">289 up</text>
<text x="74.5" y="433" text-anchor="end" stroke="#000" stroke-width="0.23" font-size="16.6">456 down</text>
<rect x="198" y="455.5" width="78.99" height="18.5" fill="#ff0000"/>
<rect x="106.31" y="474" width="91.69" height="18.7" fill="#ff0000"/>
<text x="284.6" y="471.4" stroke="#000" stroke-width="0.23" font-size="16.6">311 up</text>
<text x="98.5" y="489.2" text-anchor="end" stroke="#000" stroke-width="0.23" font-size="16.6">361 down</text>
<rect x="198" y="512.4" width="16.51" height="18.6" fill="#00cc00"/>
<rect x="187.33" y="531" width="10.67" height="18.7" fill="#00cc00"/>
<text x="222.4" y="528.2" stroke="#000" stroke-width="0.23" font-size="16.6">65 up</text>
<text x="179" y="545" text-anchor="end" stroke="#000" stroke-width="0.23" font-size="16.6">42 down</text>
<line x1="198" y1="390" x2="198" y2="559.6" stroke="#000" stroke-width="2.1"/>
<line x1="44.1" y1="559.6" x2="299.9" y2="559.6" stroke="#000" stroke-width="2.1"/>
<line x1="45" y1="559.6" x2="45" y2="564.6" stroke="#000" stroke-width="1.8"/>
<text text-anchor="end" stroke="#000" stroke-width="0.23" transform="translate(55.2 579.2) rotate(-45)" font-size="16.6">–600</text>
<line x1="95.8" y1="559.6" x2="95.8" y2="564.6" stroke="#000" stroke-width="1.8"/>
<text text-anchor="end" stroke="#000" stroke-width="0.23" transform="translate(106 579.2) rotate(-45)" font-size="16.6">–400</text>
<line x1="146.6" y1="559.6" x2="146.6" y2="564.6" stroke="#000" stroke-width="1.8"/>
<text text-anchor="end" stroke="#000" stroke-width="0.23" transform="translate(156.8 579.2) rotate(-45)" font-size="16.6">–200</text>
<line x1="197.4" y1="559.6" x2="197.4" y2="564.6" stroke="#000" stroke-width="1.8"/>
<text text-anchor="end" stroke="#000" stroke-width="0.23" transform="translate(207.6 579.2) rotate(-45)" font-size="16.6">0</text>
<line x1="248.2" y1="559.6" x2="248.2" y2="564.6" stroke="#000" stroke-width="1.8"/>
<text text-anchor="end" stroke="#000" stroke-width="0.23" transform="translate(258.4 579.2) rotate(-45)" font-size="16.6">200</text>
<line x1="299" y1="559.6" x2="299" y2="564.6" stroke="#000" stroke-width="1.8"/>
<text text-anchor="end" stroke="#000" stroke-width="0.23" transform="translate(309.2 579.2) rotate(-45)" font-size="16.6">400</text>
<text x="173" y="353.2" text-anchor="middle" stroke="#000" stroke-width="0.29" font-size="20.8">HX vs NX</text>
<text x="319.2" y="504.6" fill="#9900cc" stroke="#9900cc" stroke-width="0.29" font-size="20.8">P18</text>
<text x="319.2" y="528.3" fill="#ff0000" stroke="#ff0000" stroke-width="0.29" font-size="20.8">P22</text>
<text x="319.2" y="552.4" fill="#00cc00" stroke="#00cc00" stroke-width="0.29" font-size="20.8">P30</text>
<text x="184" y="630.2" text-anchor="middle" stroke="#000" stroke-width="0.23" font-size="16.6">Number of DEG</text>
</g>
<g id="panel-g">
<rect x="172.5" y="830.9" width="88.17" height="18.5" fill="#9900cc"/>
<rect x="98.65" y="849.4" width="73.85" height="18.5" fill="#9900cc"/>
<text x="267.6" y="845.8" stroke="#000" stroke-width="0.23" font-size="16.6">277 up</text>
<text x="91.2" y="864.4" text-anchor="end" stroke="#000" stroke-width="0.23" font-size="16.6">232 down</text>
<rect x="172.5" y="888" width="82.12" height="17.9" fill="#ff0000"/>
<rect x="139.08" y="906.2" width="33.42" height="18.7" fill="#ff0000"/>
<text x="261.3" y="902.8" stroke="#000" stroke-width="0.23" font-size="16.6">258 up</text>
<text x="131.5" y="921.4" text-anchor="end" stroke="#000" stroke-width="0.23" font-size="16.6">105 down</text>
<rect x="172.5" y="944.1" width="23.55" height="18.8" fill="#00cc00"/>
<rect x="123.48" y="963.2" width="49.02" height="18.6" fill="#00cc00"/>
<text x="203.4" y="959.5" stroke="#000" stroke-width="0.23" font-size="16.6">74 up</text>
<text x="116" y="976.7" text-anchor="end" stroke="#000" stroke-width="0.23" font-size="16.6">154 down</text>
<line x1="172.5" y1="821.8" x2="172.5" y2="991.7" stroke="#000" stroke-width="2.1"/>
<line x1="44.1" y1="991.7" x2="300.6" y2="991.7" stroke="#000" stroke-width="2.1"/>
<line x1="45" y1="991.7" x2="45" y2="996.7" stroke="#000" stroke-width="1.8"/>
<text text-anchor="end" stroke="#000" stroke-width="0.23" transform="translate(55.2 1011.3) rotate(-45)" font-size="16.6">–400</text>
<line x1="108.67" y1="991.7" x2="108.67" y2="996.7" stroke="#000" stroke-width="1.8"/>
<text text-anchor="end" stroke="#000" stroke-width="0.23" transform="translate(118.88 1011.3) rotate(-45)" font-size="16.6">–200</text>
<line x1="172.35" y1="991.7" x2="172.35" y2="996.7" stroke="#000" stroke-width="1.8"/>
<text text-anchor="end" stroke="#000" stroke-width="0.23" transform="translate(182.55 1011.3) rotate(-45)" font-size="16.6">0</text>
<line x1="236.02" y1="991.7" x2="236.02" y2="996.7" stroke="#000" stroke-width="1.8"/>
<text text-anchor="end" stroke="#000" stroke-width="0.23" transform="translate(246.22 1011.3) rotate(-45)" font-size="16.6">200</text>
<line x1="299.7" y1="991.7" x2="299.7" y2="996.7" stroke="#000" stroke-width="1.8"/>
<text text-anchor="end" stroke="#000" stroke-width="0.23" transform="translate(309.9 1011.3) rotate(-45)" font-size="16.6">400</text>
<text x="168.5" y="784.2" text-anchor="middle" stroke="#000" stroke-width="0.29" font-size="20.8">HX-EE vs HX</text>
<text x="319.5" y="936.5" fill="#9900cc" stroke="#9900cc" stroke-width="0.29" font-size="20.8">P18</text>
<text x="319.5" y="960" fill="#ff0000" stroke="#ff0000" stroke-width="0.29" font-size="20.8">P22</text>
<text x="319.5" y="984.1" fill="#00cc00" stroke="#00cc00" stroke-width="0.29" font-size="20.8">P30</text>
<text x="174" y="1054.6" text-anchor="middle" stroke="#000" stroke-width="0.23" font-size="16.6">Number of DEG</text>
</g>
<g id="panel-d">
<rect x="690.4" y="372.6" width="216.2" height="14" fill="#999999"/>
<rect x="690.4" y="396.8" width="139.7" height="14" fill="#999999"/>
<rect x="690.4" y="421.1" width="122.9" height="14" fill="#999999"/>
<rect x="690.4" y="445.1" width="120.7" height="14" fill="#999999"/>
<rect x="690.4" y="469.3" width="116.4" height="14" fill="#999999"/>
<rect x="690.4" y="493.6" width="106.4" height="14" fill="#999999"/>
<rect x="690.4" y="517.9" width="101.4" height="14" fill="#9900cc"/>
<rect x="690.4" y="541.8" width="92.7" height="14" fill="#999999"/>
<rect x="690.4" y="566.1" width="87.4" height="14" fill="#999999"/>
<rect x="690.4" y="590.4" width="86.8" height="14" fill="#999999"/>
<line x1="690.4" y1="365.6" x2="690.4" y2="612" stroke="#000" stroke-width="2.1"/>
<line x1="689.4" y1="611" x2="946.5" y2="611" stroke="#000" stroke-width="2.1"/>
<line x1="685.2" y1="379.6" x2="690.4" y2="379.6" stroke="#000" stroke-width="1.8"/>
<text x="678.3" y="385.3" text-anchor="end" stroke="#000" stroke-width="0.23" font-size="16.6">Cell movement</text>
<line x1="685.2" y1="403.8" x2="690.4" y2="403.8" stroke="#000" stroke-width="1.8"/>
<text x="678.3" y="409.38" text-anchor="end" stroke="#000" stroke-width="0.23" font-size="16.6">Cell survival</text>
<line x1="685.2" y1="428.1" x2="690.4" y2="428.1" stroke="#000" stroke-width="1.8"/>
<text x="678.3" y="433.46" text-anchor="end" stroke="#000" stroke-width="0.23" font-size="16.6">Synthesis of phosphatidic acid</text>
<line x1="685.2" y1="452.1" x2="690.4" y2="452.1" stroke="#000" stroke-width="1.8"/>
<text x="678.3" y="457.53" text-anchor="end" stroke="#000" stroke-width="0.23" font-size="16.6">Tubulation of cells</text>
<line x1="685.2" y1="476.3" x2="690.4" y2="476.3" stroke="#000" stroke-width="1.8"/>
<text x="678.3" y="481.61" text-anchor="end" stroke="#000" stroke-width="0.23" font-size="16.6">Formation of plasma membrane</text>
<line x1="685.2" y1="500.6" x2="690.4" y2="500.6" stroke="#000" stroke-width="1.8"/>
<text x="678.3" y="505.69" text-anchor="end" stroke="#000" stroke-width="0.23" font-size="16.6">Metabolism of membrane lipid derivative</text>
<line x1="685.2" y1="524.9" x2="690.4" y2="524.9" stroke="#000" stroke-width="1.8"/>
<text x="678.3" y="529.77" text-anchor="end" stroke="#000" stroke-width="0.23" font-size="16.6">Cellular degradation</text>
<line x1="685.2" y1="548.8" x2="690.4" y2="548.8" stroke="#000" stroke-width="1.8"/>
<text x="678.3" y="553.84" text-anchor="end" stroke="#000" stroke-width="0.23" font-size="16.6">Metabolism of phospholipid</text>
<line x1="685.2" y1="573.1" x2="690.4" y2="573.1" stroke="#000" stroke-width="1.8"/>
<text x="678.3" y="577.92" text-anchor="end" stroke="#000" stroke-width="0.23" font-size="16.6">Formation of cytoskeleton</text>
<line x1="685.2" y1="597.4" x2="690.4" y2="597.4" stroke="#000" stroke-width="1.8"/>
<text x="678.3" y="602" text-anchor="end" stroke="#000" stroke-width="0.23" font-size="16.6">Proliferation of neuroblasts</text>
<line x1="690.4" y1="611" x2="690.4" y2="616" stroke="#000" stroke-width="1.8"/>
<text text-anchor="end" stroke="#000" stroke-width="0.23" transform="translate(700.4 629.1) rotate(-45)" font-size="16.6">0</text>
<line x1="741.44" y1="611" x2="741.44" y2="616" stroke="#000" stroke-width="1.8"/>
<text text-anchor="end" stroke="#000" stroke-width="0.23" transform="translate(751.44 629.1) rotate(-45)" font-size="16.6">2</text>
<line x1="792.48" y1="611" x2="792.48" y2="616" stroke="#000" stroke-width="1.8"/>
<text text-anchor="end" stroke="#000" stroke-width="0.23" transform="translate(802.48 629.1) rotate(-45)" font-size="16.6">4</text>
<line x1="843.52" y1="611" x2="843.52" y2="616" stroke="#000" stroke-width="1.8"/>
<text text-anchor="end" stroke="#000" stroke-width="0.23" transform="translate(853.52 629.1) rotate(-45)" font-size="16.6">6</text>
<line x1="894.56" y1="611" x2="894.56" y2="616" stroke="#000" stroke-width="1.8"/>
<text text-anchor="end" stroke="#000" stroke-width="0.23" transform="translate(904.56 629.1) rotate(-45)" font-size="16.6">8</text>
<line x1="945.6" y1="611" x2="945.6" y2="616" stroke="#000" stroke-width="1.8"/>
<text text-anchor="end" stroke="#000" stroke-width="0.23" transform="translate(955.6 629.1) rotate(-45)" font-size="16.6">10</text>
<text x="812.7" y="329.3" text-anchor="middle" stroke="#000" stroke-width="0.29" font-size="20.8">P18 HX vs NX</text>
<text x="812.7" y="354.8" text-anchor="middle" stroke="#000" stroke-width="0.29" font-size="20.8">cell and molecular functions</text>
<text x="855.6" y="540.8" fill="#9900cc" stroke="#9900cc" stroke-width="0.23" font-size="16.6">Increase</text>
<text x="855.6" y="561.1" fill="#8f9a94" stroke="#8f9a94" stroke-width="0.23" font-size="16.6">Decrease</text>
<text x="824.5" y="659.8" text-anchor="middle" stroke="#000" stroke-width="0.23" font-size="16.6">–log (<tspan font-style="italic">p</tspan>-value)</text>
</g>
<g id="panel-e">
<rect x="1213" y="385" width="209" height="26.2" fill="#ff0000"/>
<rect x="1213" y="431.6" width="173.2" height="26.2" fill="#ff0000"/>
<rect x="1213" y="478.4" width="99.8" height="26.2" fill="#ff0000"/>
<rect x="1213" y="524.6" width="78.7" height="26.2" fill="#ff0000"/>
<rect x="1213" y="571.3" width="73.7" height="26.2" fill="#ff0000"/>
<line x1="1213" y1="365.7" x2="1213" y2="611.7" stroke="#000" stroke-width="2.1"/>
<line x1="1212" y1="610.7" x2="1468.9" y2="610.7" stroke="#000" stroke-width="2.1"/>
<line x1="1207.8" y1="398.1" x2="1213" y2="398.1" stroke="#000" stroke-width="1.8"/>
<text x="1199.8" y="405.3" text-anchor="end" stroke="#000" stroke-width="0.23" font-size="16.6">Cell-cell contact</text>
<line x1="1207.8" y1="444.7" x2="1213" y2="444.7" stroke="#000" stroke-width="1.8"/>
<text x="1199.8" y="451.3" text-anchor="end" stroke="#000" stroke-width="0.23" font-size="16.6">Cell movement</text>
<line x1="1207.8" y1="491.5" x2="1213" y2="491.5" stroke="#000" stroke-width="1.8"/>
<text x="1199.8" y="497.3" text-anchor="end" stroke="#000" stroke-width="0.23" font-size="16.6">Development of vasculature</text>
<line x1="1207.8" y1="537.7" x2="1213" y2="537.7" stroke="#000" stroke-width="1.8"/>
<text x="1199.8" y="543.3" text-anchor="end" stroke="#000" stroke-width="0.23" font-size="16.6">Colony formation</text>
<line x1="1207.8" y1="584.4" x2="1213" y2="584.4" stroke="#000" stroke-width="1.8"/>
<text x="1199.8" y="589.3" text-anchor="end" stroke="#000" stroke-width="0.23" font-size="16.6">Differentiation of neuroglia</text>
<line x1="1213" y1="610.7" x2="1213" y2="615.7" stroke="#000" stroke-width="1.8"/>
<text text-anchor="end" stroke="#000" stroke-width="0.23" transform="translate(1223 628.8) rotate(-45)" font-size="16.6">0</text>
<line x1="1298" y1="610.7" x2="1298" y2="615.7" stroke="#000" stroke-width="1.8"/>
<text text-anchor="end" stroke="#000" stroke-width="0.23" transform="translate(1308 628.8) rotate(-45)" font-size="16.6">5</text>
<line x1="1383" y1="610.7" x2="1383" y2="615.7" stroke="#000" stroke-width="1.8"/>
<text text-anchor="end" stroke="#000" stroke-width="0.23" transform="translate(1393 628.8) rotate(-45)" font-size="16.6">10</text>
<line x1="1468" y1="610.7" x2="1468" y2="615.7" stroke="#000" stroke-width="1.8"/>
<text text-anchor="end" stroke="#000" stroke-width="0.23" transform="translate(1478 628.8) rotate(-45)" font-size="16.6">15</text>
<text x="1339.5" y="333.8" text-anchor="middle" stroke="#000" stroke-width="0.29" font-size="20.8">P22 HX vs NX</text>
<text x="1339.5" y="358.8" text-anchor="middle" stroke="#000" stroke-width="0.29" font-size="20.8">cell and molecular functions</text>
<text x="1376.8" y="541.3" fill="#ff0000" stroke="#ff0000" stroke-width="0.23" font-size="16.6">Increase</text>
<text x="1376.8" y="560.7" fill="#8f9a94" stroke="#8f9a94" stroke-width="0.23" font-size="16.6">Decrease</text>
<text x="1337.8" y="664.6" text-anchor="middle" stroke="#000" stroke-width="0.23" font-size="16.6">–log (<tspan font-style="italic">p</tspan>-value)</text>
</g>
<g id="panel-f">
<rect x="1768.2" y="388" width="192" height="44.6" fill="#00cc00"/>
<rect x="1768.2" y="466.4" width="180.8" height="44.6" fill="#00cc00"/>
<rect x="1768.2" y="544.9" width="144.1" height="44.6" fill="#00cc00"/>
<line x1="1768.2" y1="365.7" x2="1768.2" y2="613" stroke="#000" stroke-width="2.1"/>
<line x1="1767.2" y1="612" x2="2023.3" y2="612" stroke="#000" stroke-width="2.1"/>
<line x1="1763" y1="410.3" x2="1768.2" y2="410.3" stroke="#000" stroke-width="1.8"/>
<text x="1755.3" y="415.3" text-anchor="end" stroke="#000" stroke-width="0.23" font-size="16.6">Synaptic transmission of cells</text>
<line x1="1763" y1="488.7" x2="1768.2" y2="488.7" stroke="#000" stroke-width="1.8"/>
<text x="1755.3" y="493.4" text-anchor="end" stroke="#000" stroke-width="0.23" font-size="16.6">Neuritogenesis</text>
<line x1="1763" y1="567.2" x2="1768.2" y2="567.2" stroke="#000" stroke-width="1.8"/>
<text x="1755.3" y="571.5" text-anchor="end" stroke="#000" stroke-width="0.23" font-size="16.6">Formation of cellular protrusions</text>
<line x1="1768.2" y1="612" x2="1768.2" y2="617" stroke="#000" stroke-width="1.8"/>
<text text-anchor="end" stroke="#000" stroke-width="0.23" transform="translate(1778.2 630.1) rotate(-45)" font-size="16.6">0</text>
<line x1="1831.75" y1="612" x2="1831.75" y2="617" stroke="#000" stroke-width="1.8"/>
<text text-anchor="end" stroke="#000" stroke-width="0.23" transform="translate(1841.75 630.1) rotate(-45)" font-size="16.6">1</text>
<line x1="1895.3" y1="612" x2="1895.3" y2="617" stroke="#000" stroke-width="1.8"/>
<text text-anchor="end" stroke="#000" stroke-width="0.23" transform="translate(1905.3 630.1) rotate(-45)" font-size="16.6">2</text>
<line x1="1958.85" y1="612" x2="1958.85" y2="617" stroke="#000" stroke-width="1.8"/>
<text text-anchor="end" stroke="#000" stroke-width="0.23" transform="translate(1968.85 630.1) rotate(-45)" font-size="16.6">3</text>
<line x1="2022.4" y1="612" x2="2022.4" y2="617" stroke="#000" stroke-width="1.8"/>
<text text-anchor="end" stroke="#000" stroke-width="0.23" transform="translate(2032.4 630.1) rotate(-45)" font-size="16.6">4</text>
<text x="1883" y="331.5" text-anchor="middle" stroke="#000" stroke-width="0.29" font-size="20.8">P30 HX vs NX</text>
<text x="1883" y="356.4" text-anchor="middle" stroke="#000" stroke-width="0.29" font-size="20.8">cell and molecular functions</text>
<text x="1985.7" y="543.7" fill="#00cc00" stroke="#00cc00" stroke-width="0.23" font-size="16.6">Increase</text>
<text x="1985.7" y="563.9" fill="#8f9a94" stroke="#8f9a94" stroke-width="0.23" font-size="16.6">Decrease</text>
<text x="1896.8" y="665.5" text-anchor="middle" stroke="#000" stroke-width="0.23" font-size="16.6">–log (<tspan font-style="italic">p</tspan>-value)</text>
</g>
<g id="panel-h">
<rect x="689.9" y="795.85" width="226.2" height="19.3" fill="#9900cc"/>
<rect x="689.9" y="830.35" width="222.8" height="19.3" fill="#9900cc"/>
<rect x="689.9" y="864.85" width="206" height="19.3" fill="#9900cc"/>
<rect x="689.9" y="899.45" width="205" height="19.3" fill="#9900cc"/>
<rect x="689.9" y="933.95" width="189.8" height="19.3" fill="#9900cc"/>
<rect x="689.9" y="968.65" width="172.4" height="19.3" fill="#9900cc"/>
<rect x="689.9" y="1003.25" width="169.3" height="19.3" fill="#9900cc"/>
<line x1="689.9" y1="786.5" x2="689.9" y2="1033.4" stroke="#000" stroke-width="2.1"/>
<line x1="688.9" y1="1032.4" x2="945.2" y2="1032.4" stroke="#000" stroke-width="2.1"/>
<line x1="684.7" y1="805.5" x2="689.9" y2="805.5" stroke="#000" stroke-width="1.8"/>
<text x="678" y="810.8" text-anchor="end" stroke="#000" stroke-width="0.23" font-size="16.6">Developmental process of synapse</text>
<line x1="684.7" y1="840" x2="689.9" y2="840" stroke="#000" stroke-width="1.8"/>
<text x="678" y="845.23" text-anchor="end" stroke="#000" stroke-width="0.23" font-size="16.6">Cell movement</text>
<line x1="684.7" y1="874.5" x2="689.9" y2="874.5" stroke="#000" stroke-width="1.8"/>
<text x="678" y="879.67" text-anchor="end" stroke="#000" stroke-width="0.23" font-size="16.6">Cell movement of neurons</text>
<line x1="684.7" y1="909.1" x2="689.9" y2="909.1" stroke="#000" stroke-width="1.8"/>
<text x="678" y="914.1" text-anchor="end" stroke="#000" stroke-width="0.23" font-size="16.6">Formation of plasma membrane</text>
<line x1="684.7" y1="943.6" x2="689.9" y2="943.6" stroke="#000" stroke-width="1.8"/>
<text x="678" y="948.53" text-anchor="end" stroke="#000" stroke-width="0.23" font-size="16.6">Migration of cells</text>
<line x1="684.7" y1="978.3" x2="689.9" y2="978.3" stroke="#000" stroke-width="1.8"/>
<text x="678" y="982.97" text-anchor="end" stroke="#000" stroke-width="0.23" font-size="16.6">Formation of filaments</text>
<line x1="684.7" y1="1012.9" x2="689.9" y2="1012.9" stroke="#000" stroke-width="1.8"/>
<text x="678" y="1017.4" text-anchor="end" stroke="#000" stroke-width="0.23" font-size="16.6">Cell-cell contact</text>
<line x1="689.9" y1="1032.4" x2="689.9" y2="1037.4" stroke="#000" stroke-width="1.8"/>
<text text-anchor="end" stroke="#000" stroke-width="0.23" transform="translate(699.9 1050.5) rotate(-45)" font-size="16.6">0</text>
<line x1="774.7" y1="1032.4" x2="774.7" y2="1037.4" stroke="#000" stroke-width="1.8"/>
<text text-anchor="end" stroke="#000" stroke-width="0.23" transform="translate(784.7 1050.5) rotate(-45)" font-size="16.6">2</text>
<line x1="859.5" y1="1032.4" x2="859.5" y2="1037.4" stroke="#000" stroke-width="1.8"/>
<text text-anchor="end" stroke="#000" stroke-width="0.23" transform="translate(869.5 1050.5) rotate(-45)" font-size="16.6">4</text>
<line x1="944.3" y1="1032.4" x2="944.3" y2="1037.4" stroke="#000" stroke-width="1.8"/>
<text text-anchor="end" stroke="#000" stroke-width="0.23" transform="translate(954.3 1050.5) rotate(-45)" font-size="16.6">6</text>
<text x="812.7" y="752.1" text-anchor="middle" stroke="#000" stroke-width="0.29" font-size="20.8">P18 HX-EE vs NX</text>
<text x="812.7" y="777" text-anchor="middle" stroke="#000" stroke-width="0.29" font-size="20.8">cell and molecular functions</text>
<text x="897.3" y="965.5" fill="#9900cc" stroke="#9900cc" stroke-width="0.23" font-size="16.6">Increase</text>
<text x="897.3" y="985.7" fill="#8f9a94" stroke="#8f9a94" stroke-width="0.23" font-size="16.6">Decrease</text>
<text x="819.9" y="1082" text-anchor="middle" stroke="#000" stroke-width="0.23" font-size="16.6">–log (<tspan font-style="italic">p</tspan>-value)</text>
</g>
<g id="panel-i">
<rect x="1213.4" y="792.65" width="187.9" height="16.8" fill="#ff0000"/>
<rect x="1213.4" y="822.8" width="159.3" height="16.8" fill="#ff0000"/>
<rect x="1213.4" y="852.95" width="150.4" height="16.8" fill="#ff0000"/>
<rect x="1213.4" y="883.1" width="138.9" height="16.8" fill="#ff0000"/>
<rect x="1213.4" y="913.25" width="138.6" height="16.8" fill="#ff0000"/>
<rect x="1213.4" y="943.45" width="129.5" height="16.8" fill="#ff0000"/>
<rect x="1213.4" y="973.6" width="113.4" height="16.8" fill="#ff0000"/>
<rect x="1213.4" y="1003.8" width="109.4" height="16.8" fill="#e60a00"/>
<line x1="1213.4" y1="783.6" x2="1213.4" y2="1030.3" stroke="#000" stroke-width="2.1"/>
<line x1="1212.4" y1="1029.3" x2="1468.8" y2="1029.3" stroke="#000" stroke-width="2.1"/>
<line x1="1208.2" y1="801.05" x2="1213.4" y2="801.05" stroke="#000" stroke-width="1.8"/>
<text x="1200.4" y="806.3" text-anchor="end" stroke="#000" stroke-width="0.23" font-size="16.6">Neuritogenesis</text>
<line x1="1208.2" y1="831.2" x2="1213.4" y2="831.2" stroke="#000" stroke-width="1.8"/>
<text x="1200.4" y="836.31" text-anchor="end" stroke="#000" stroke-width="0.23" font-size="16.6">Secretory pathway</text>
<line x1="1208.2" y1="861.35" x2="1213.4" y2="861.35" stroke="#000" stroke-width="1.8"/>
<text x="1200.4" y="866.33" text-anchor="end" stroke="#000" stroke-width="0.23" font-size="16.6">Microtubule dynamics</text>
<line x1="1208.2" y1="891.5" x2="1213.4" y2="891.5" stroke="#000" stroke-width="1.8"/>
<text x="1200.4" y="896.34" text-anchor="end" stroke="#000" stroke-width="0.23" font-size="16.6">Organization of cytoskeleton</text>
<line x1="1208.2" y1="921.65" x2="1213.4" y2="921.65" stroke="#000" stroke-width="1.8"/>
<text x="1200.4" y="926.36" text-anchor="end" stroke="#000" stroke-width="0.23" font-size="16.6">ExocytosIs</text>
<line x1="1208.2" y1="951.85" x2="1213.4" y2="951.85" stroke="#000" stroke-width="1.8"/>
<text x="1200.4" y="956.37" text-anchor="end" stroke="#000" stroke-width="0.23" font-size="16.6">Organization of cytoplasm</text>
<line x1="1208.2" y1="982" x2="1213.4" y2="982" stroke="#000" stroke-width="1.8"/>
<text x="1200.4" y="986.39" text-anchor="end" stroke="#000" stroke-width="0.23" font-size="16.6">Dendritic growth/branching</text>
<line x1="1208.2" y1="1012.2" x2="1213.4" y2="1012.2" stroke="#000" stroke-width="1.8"/>
<text x="1200.4" y="1016.4" text-anchor="end" stroke="#000" stroke-width="0.23" font-size="16.6">Release of neurotransmitter</text>
<line x1="1213.4" y1="1029.3" x2="1213.4" y2="1034.3" stroke="#000" stroke-width="1.8"/>
<text text-anchor="end" stroke="#000" stroke-width="0.23" transform="translate(1223.4 1047.4) rotate(-45)" font-size="16.6">0</text>
<line x1="1298.23" y1="1029.3" x2="1298.23" y2="1034.3" stroke="#000" stroke-width="1.8"/>
<text text-anchor="end" stroke="#000" stroke-width="0.23" transform="translate(1308.23 1047.4) rotate(-45)" font-size="16.6">5</text>
<line x1="1383.07" y1="1029.3" x2="1383.07" y2="1034.3" stroke="#000" stroke-width="1.8"/>
<text text-anchor="end" stroke="#000" stroke-width="0.23" transform="translate(1393.07 1047.4) rotate(-45)" font-size="16.6">10</text>
<line x1="1467.9" y1="1029.3" x2="1467.9" y2="1034.3" stroke="#000" stroke-width="1.8"/>
<text text-anchor="end" stroke="#000" stroke-width="0.23" transform="translate(1477.9 1047.4) rotate(-45)" font-size="16.6">15</text>
<text x="1334.7" y="748.8" text-anchor="middle" stroke="#000" stroke-width="0.29" font-size="20.8">P22 HX-EE vs NX</text>
<text x="1334.7" y="773.7" text-anchor="middle" stroke="#000" stroke-width="0.29" font-size="20.8">cell and molecular functions</text>
<text x="1369" y="957.9" fill="#ff0000" stroke="#ff0000" stroke-width="0.23" font-size="16.6">Increase</text>
<text x="1369" y="977.1" fill="#8f9a94" stroke="#8f9a94" stroke-width="0.23" font-size="16.6">Decrease</text>
<text x="1341.8" y="1081.2" text-anchor="middle" stroke="#000" stroke-width="0.23" font-size="16.6">–log (<tspan font-style="italic">p</tspan>-value)</text>
</g>
<g id="panel-j">
<rect x="1768.5" y="788.6" width="175.6" height="13.6" fill="#999999"/>
<rect x="1768.5" y="812.8" width="163.3" height="13.6" fill="#999999"/>
<rect x="1768.5" y="837.05" width="157.6" height="13.6" fill="#999999"/>
<rect x="1768.5" y="861.25" width="155.3" height="13.6" fill="#999999"/>
<rect x="1768.5" y="885.5" width="131.2" height="13.6" fill="#999999"/>
<rect x="1768.5" y="909.7" width="113.5" height="13.6" fill="#999999"/>
<rect x="1768.5" y="933.9" width="108.9" height="13.6" fill="#999999"/>
<rect x="1768.5" y="958.15" width="52.7" height="13.6" fill="#999999"/>
<rect x="1768.5" y="982.35" width="50.1" height="13.6" fill="#999999"/>
<rect x="1768.5" y="1006.6" width="49" height="13.6" fill="#999999"/>
<line x1="1768.5" y1="782.2" x2="1768.5" y2="1028.2" stroke="#000" stroke-width="2.1"/>
<line x1="1767.5" y1="1027.2" x2="2024.2" y2="1027.2" stroke="#000" stroke-width="2.1"/>
<line x1="1763.3" y1="795.4" x2="1768.5" y2="795.4" stroke="#000" stroke-width="1.8"/>
<text x="1755.3" y="801.8" text-anchor="end" stroke="#000" stroke-width="0.23" font-size="16.6">Organization of cytoskeleton</text>
<line x1="1763.3" y1="819.6" x2="1768.5" y2="819.6" stroke="#000" stroke-width="1.8"/>
<text x="1755.3" y="825.81" text-anchor="end" stroke="#000" stroke-width="0.23" font-size="16.6">Microtubule dynamics</text>
<line x1="1763.3" y1="843.85" x2="1768.5" y2="843.85" stroke="#000" stroke-width="1.8"/>
<text x="1755.3" y="849.82" text-anchor="end" stroke="#000" stroke-width="0.23" font-size="16.6">Organization of cytoplasm</text>
<line x1="1763.3" y1="868.05" x2="1768.5" y2="868.05" stroke="#000" stroke-width="1.8"/>
<text x="1755.3" y="873.83" text-anchor="end" stroke="#000" stroke-width="0.23" font-size="16.6">Long-term potentiation</text>
<line x1="1763.3" y1="892.3" x2="1768.5" y2="892.3" stroke="#000" stroke-width="1.8"/>
<text x="1755.3" y="897.84" text-anchor="end" stroke="#000" stroke-width="0.23" font-size="16.6">Morphogenesis of neurons</text>
<line x1="1763.3" y1="916.5" x2="1768.5" y2="916.5" stroke="#000" stroke-width="1.8"/>
<text x="1755.3" y="921.86" text-anchor="end" stroke="#000" stroke-width="0.23" font-size="16.6">Neuritogenesis</text>
<line x1="1763.3" y1="940.7" x2="1768.5" y2="940.7" stroke="#000" stroke-width="1.8"/>
<text x="1755.3" y="945.87" text-anchor="end" stroke="#000" stroke-width="0.23" font-size="16.6">Formation of cellular protrusions</text>
<line x1="1763.3" y1="964.95" x2="1768.5" y2="964.95" stroke="#000" stroke-width="1.8"/>
<text x="1755.3" y="969.88" text-anchor="end" stroke="#000" stroke-width="0.23" font-size="16.6">Branching of cells</text>
<line x1="1763.3" y1="989.15" x2="1768.5" y2="989.15" stroke="#000" stroke-width="1.8"/>
<text x="1755.3" y="993.89" text-anchor="end" stroke="#000" stroke-width="0.23" font-size="16.6">Cell death of cerebral cortex cells</text>
<line x1="1763.3" y1="1013.4" x2="1768.5" y2="1013.4" stroke="#000" stroke-width="1.8"/>
<text x="1755.3" y="1017.9" text-anchor="end" stroke="#000" stroke-width="0.23" font-size="16.6">Sprouting</text>
<line x1="1768.5" y1="1027.2" x2="1768.5" y2="1032.2" stroke="#000" stroke-width="1.8"/>
<text text-anchor="end" stroke="#000" stroke-width="0.23" transform="translate(1778.5 1045.3) rotate(-45)" font-size="16.6">0</text>
<line x1="1853.43" y1="1027.2" x2="1853.43" y2="1032.2" stroke="#000" stroke-width="1.8"/>
<text text-anchor="end" stroke="#000" stroke-width="0.23" transform="translate(1863.43 1045.3) rotate(-45)" font-size="16.6">5</text>
<line x1="1938.37" y1="1027.2" x2="1938.37" y2="1032.2" stroke="#000" stroke-width="1.8"/>
<text text-anchor="end" stroke="#000" stroke-width="0.23" transform="translate(1948.37 1045.3) rotate(-45)" font-size="16.6">10</text>
<line x1="2023.3" y1="1027.2" x2="2023.3" y2="1032.2" stroke="#000" stroke-width="1.8"/>
<text text-anchor="end" stroke="#000" stroke-width="0.23" transform="translate(2033.3 1045.3) rotate(-45)" font-size="16.6">15</text>
<text x="1903.2" y="742.5" text-anchor="middle" stroke="#000" stroke-width="0.29" font-size="20.8">P30 HX-EE vs NX</text>
<text x="1903.2" y="767.4" text-anchor="middle" stroke="#000" stroke-width="0.29" font-size="20.8">cell and molecular functions</text>
<text x="1986.3" y="961.4" fill="#00cc00" stroke="#00cc00" stroke-width="0.23" font-size="16.6">Increase</text>
<text x="1986.3" y="981.8" fill="#8f9a94" stroke="#8f9a94" stroke-width="0.23" font-size="16.6">Decrease</text>
<text x="1896.9" y="1082.2" text-anchor="middle" stroke="#000" stroke-width="0.23" font-size="16.6">–log (<tspan font-style="italic">p</tspan>-value)</text>
</g>
<g id="panel-k">
<rect x="633.2" y="1146.2" width="71.17" height="35.16" fill="#0059dd"/>
<rect x="704.08" y="1146.2" width="71.17" height="35.16" fill="#ffc58a"/>
<rect x="774.95" y="1146.2" width="71.17" height="35.16" fill="#ffc280"/>
<rect x="845.83" y="1146.2" width="71.17" height="35.16" fill="#fff6ef"/>
<text x="625.6" y="1169.5" text-anchor="end" stroke="#000" stroke-width="0.23" font-size="16.7">TCF7L2</text>
<rect x="633.2" y="1181.06" width="71.17" height="35.16" fill="#377be2"/>
<rect x="704.08" y="1181.06" width="71.17" height="35.16" fill="#ffc58a"/>
<rect x="774.95" y="1181.06" width="71.17" height="35.16" fill="#ffac4f"/>
<rect x="845.83" y="1181.06" width="71.17" height="35.16" fill="#9ebef2"/>
<text x="625.6" y="1204.33" text-anchor="end" stroke="#000" stroke-width="0.23" font-size="16.7">SOX2</text>
<rect x="633.2" y="1215.92" width="71.17" height="35.16" fill="#9ebef2"/>
<rect x="704.08" y="1215.92" width="71.17" height="35.16" fill="#ffb05a"/>
<rect x="774.95" y="1215.92" width="71.17" height="35.16" fill="#ffc280"/>
<rect x="845.83" y="1215.92" width="71.17" height="35.16" fill="#377be2"/>
<text x="625.6" y="1239.15" text-anchor="end" stroke="#000" stroke-width="0.23" font-size="16.7">FMR1</text>
<rect x="633.2" y="1250.78" width="71.17" height="35.16" fill="#74a2ea"/>
<rect x="704.08" y="1250.78" width="71.17" height="35.16" fill="#ffb96d"/>
<rect x="774.95" y="1250.78" width="71.17" height="35.16" fill="#ffb361"/>
<rect x="845.83" y="1250.78" width="71.17" height="35.16" fill="#558fe6"/>
<text x="625.6" y="1273.97" text-anchor="end" stroke="#000" stroke-width="0.23" font-size="16.7">REST</text>
<rect x="633.2" y="1285.64" width="71.17" height="35.16" fill="#558fe6"/>
<rect x="704.08" y="1285.64" width="71.17" height="35.16" fill="#ff8f0d"/>
<rect x="774.95" y="1285.64" width="71.17" height="35.16" fill="#fff1e4"/>
<rect x="845.83" y="1285.64" width="71.17" height="35.16" fill="#9ebef2"/>
<text x="625.6" y="1308.8" text-anchor="end" stroke="#000" stroke-width="0.23" font-size="16.7">RICTOR</text>
<text text-anchor="end" stroke="#000" stroke-width="0.23" transform="translate(677.85 1335.9) rotate(-45)" font-size="16.7">P18 HX vs NX</text>
<text text-anchor="end" stroke="#000" stroke-width="0.23" transform="translate(751.65 1335.9) rotate(-45)" font-size="16.7">P18 HX-EE vs HX</text>
<text text-anchor="end" stroke="#000" stroke-width="0.23" transform="translate(825.45 1335.9) rotate(-45)" font-size="16.7">P22 HX vs NX</text>
<text text-anchor="end" stroke="#000" stroke-width="0.23" transform="translate(899.25 1335.9) rotate(-45)" font-size="16.7">P22 HX-EE vs HX</text>
<rect x="1129" y="1171.6" width="71.57" height="35.08" fill="#ff9900"/>
<rect x="1200.28" y="1171.6" width="71.57" height="35.08" fill="#5885e6"/>
<rect x="1271.55" y="1171.6" width="71.57" height="35.08" fill="#4276e2"/>
<rect x="1342.82" y="1171.6" width="71.57" height="35.08" fill="#ffd79e"/>
<text x="1121.3" y="1193.5" text-anchor="end" stroke="#000" stroke-width="0.23" font-size="16.7">miR-124-3p</text>
<rect x="1129" y="1206.38" width="71.57" height="35.08" fill="#ffb347"/>
<rect x="1200.28" y="1206.38" width="71.57" height="35.08" fill="#7fa2ec"/>
<rect x="1271.55" y="1206.38" width="71.57" height="35.08" fill="#1656dd"/>
<rect x="1342.82" y="1206.38" width="71.57" height="35.08" fill="#ffb54d"/>
<text x="1121.3" y="1229.03" text-anchor="end" stroke="#000" stroke-width="0.23" font-size="16.7">IKZF1</text>
<rect x="1129" y="1241.15" width="71.57" height="35.08" fill="#ffcd85"/>
<rect x="1200.28" y="1241.15" width="71.57" height="35.08" fill="#7fa2ec"/>
<rect x="1271.55" y="1241.15" width="71.57" height="35.08" fill="#215edf"/>
<rect x="1342.82" y="1241.15" width="71.57" height="35.08" fill="#ff9d14"/>
<text x="1121.3" y="1264.57" text-anchor="end" stroke="#000" stroke-width="0.23" font-size="16.7">BDNF</text>
<rect x="1129" y="1275.92" width="71.57" height="35.08" fill="#ff9900"/>
<rect x="1200.28" y="1275.92" width="71.57" height="35.08" fill="#1656dd"/>
<rect x="1271.55" y="1275.92" width="71.57" height="35.08" fill="#8ba9ee"/>
<rect x="1342.82" y="1275.92" width="71.57" height="35.08" fill="#ffd79e"/>
<text x="1121.3" y="1300.1" text-anchor="end" stroke="#000" stroke-width="0.23" font-size="16.7">NGF</text>
<text text-anchor="end" stroke="#000" stroke-width="0.23" transform="translate(1173.64 1326.9) rotate(-45)" font-size="16.7">P18 HX vs NX</text>
<text text-anchor="end" stroke="#000" stroke-width="0.23" transform="translate(1244.94 1326.9) rotate(-45)" font-size="16.7">P18 HX-EE vs HX</text>
<text text-anchor="end" stroke="#000" stroke-width="0.23" transform="translate(1316.24 1326.9) rotate(-45)" font-size="16.7">P22 HX vs NX</text>
<text text-anchor="end" stroke="#000" stroke-width="0.23" transform="translate(1387.54 1326.9) rotate(-45)" font-size="16.7">P22 HX-EE vs HX</text>
<defs><linearGradient id="cb" x1="0" x2="1" y1="0" y2="0"><stop offset="0" stop-color="#0057dc"/><stop offset="0.5" stop-color="#ffffff"/><stop offset="1" stop-color="#ff8c00"/></linearGradient></defs>
<rect x="1462.5" y="1276.8" width="197.6" height="28.8" fill="url(#cb)" stroke="#444" stroke-width="0.8"/>
<line x1="1492.3" y1="1305.6" x2="1492.3" y2="1312" stroke="#333" stroke-width="0.9"/>
<text x="1492.3" y="1324.8" text-anchor="middle" stroke="#000" stroke-width="0.17" font-size="12.45">–1</text>
<line x1="1526.7" y1="1305.6" x2="1526.7" y2="1312" stroke="#333" stroke-width="0.9"/>
<text x="1526.7" y="1324.8" text-anchor="middle" stroke="#000" stroke-width="0.17" font-size="12.45">–0.5</text>
<line x1="1561" y1="1305.6" x2="1561" y2="1312" stroke="#333" stroke-width="0.9"/>
<text x="1561" y="1324.8" text-anchor="middle" stroke="#000" stroke-width="0.17" font-size="12.45">0</text>
<line x1="1595.4" y1="1305.6" x2="1595.4" y2="1312" stroke="#333" stroke-width="0.9"/>
<text x="1595.4" y="1324.8" text-anchor="middle" stroke="#000" stroke-width="0.17" font-size="12.45">0.5</text>
<line x1="1629.8" y1="1305.6" x2="1629.8" y2="1312" stroke="#333" stroke-width="0.9"/>
<text x="1629.8" y="1324.8" text-anchor="middle" stroke="#000" stroke-width="0.17" font-size="12.45">1</text>
<text x="1561" y="1345.4" text-anchor="middle" stroke="#000" stroke-width="0.18" font-size="12.5">Row <tspan font-style="italic">Z</tspan>-score</text>
</g>
</svg></body></html>
